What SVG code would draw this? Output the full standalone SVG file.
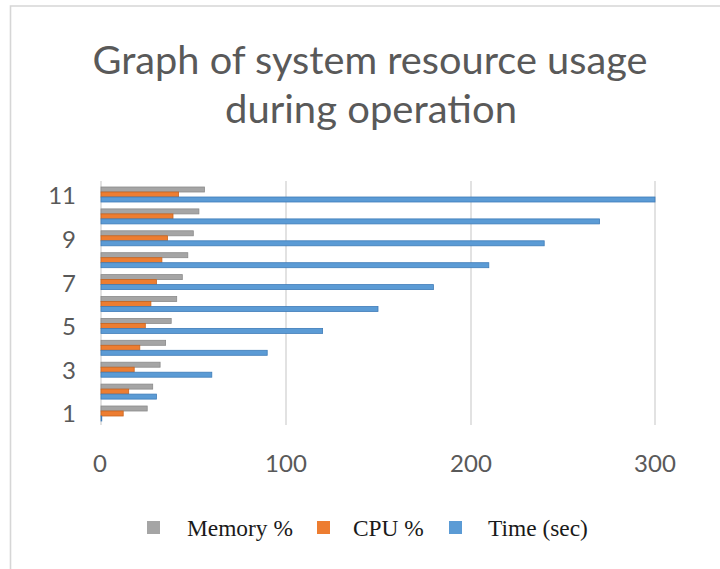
<svg xmlns="http://www.w3.org/2000/svg" width="720" height="569" viewBox="0 0 720 569">
<style>
.title{font-family:Lato,"Open Sans","Liberation Sans",sans-serif;font-size:39px;fill:#595959;text-anchor:middle}
.ax{font-family:Lato,"Open Sans","Liberation Sans",sans-serif;font-size:24px;fill:#595959}
.leg{font-family:"Liberation Serif","Times New Roman",serif;font-size:23.4px;fill:#1a1a1a}
.grid{stroke:#D9D9D9;stroke-width:1.5;fill:none}
.mem{fill:#A5A5A5;stroke:#8a8a8a;stroke-width:0.8}
.cpu{fill:#ED7D31;stroke:#c9641f;stroke-width:0.8}
.tim{fill:#5B9BD5;stroke:#3f7cb8;stroke-width:0.8}
</style>
<rect x="0" y="0" width="720" height="569" fill="#ffffff"/>
<g id="frame">
<path d="M10.5 569 V6 H720" fill="none" stroke="#D6D6D6" stroke-width="1.6"/>
</g>
<g id="title">
<text class="title" x="370" y="74" textLength="555" lengthAdjust="spacingAndGlyphs">Graph of system resource usage</text>
<text class="title" x="371" y="123" textLength="292" lengthAdjust="spacingAndGlyphs">during operation</text>
</g>
<g id="gridlines">
<line class="grid" x1="101" y1="181" x2="101" y2="425"/>
<line class="grid" x1="286" y1="181" x2="286" y2="425"/>
<line class="grid" x1="471" y1="181" x2="471" y2="425"/>
<line class="grid" x1="655" y1="181" x2="655" y2="425"/>
</g>
<g id="y-labels" class="ax" text-anchor="end">
<text x="76" y="204">11</text>
<text x="76" y="248">9</text>
<text x="76" y="292">7</text>
<text x="76" y="335">5</text>
<text x="76" y="379">3</text>
<text x="76" y="422">1</text>
</g>
<g id="x-labels" class="ax" text-anchor="middle">
<text x="100" y="472">0</text>
<text x="286" y="472">100</text>
<text x="471" y="472">200</text>
<text x="655" y="472">300</text>
</g>
<g id="bars">
<rect class="mem" x="101" y="187" width="103.4" height="5"/>
<rect class="cpu" x="101" y="192" width="77.6" height="5"/>
<rect class="tim" x="101" y="197" width="554" height="5"/>
<rect class="mem" x="101" y="208.9" width="97.9" height="5"/>
<rect class="cpu" x="101" y="213.9" width="72" height="5"/>
<rect class="tim" x="101" y="218.9" width="498.6" height="5"/>
<rect class="mem" x="101" y="230.8" width="92.3" height="5"/>
<rect class="cpu" x="101" y="235.8" width="66.5" height="5"/>
<rect class="tim" x="101" y="240.8" width="443.2" height="5"/>
<rect class="mem" x="101" y="252.7" width="86.8" height="5"/>
<rect class="cpu" x="101" y="257.7" width="60.9" height="5"/>
<rect class="tim" x="101" y="262.7" width="387.8" height="5"/>
<rect class="mem" x="101" y="274.6" width="81.3" height="5"/>
<rect class="cpu" x="101" y="279.6" width="55.4" height="5"/>
<rect class="tim" x="101" y="284.6" width="332.4" height="5"/>
<rect class="mem" x="101" y="296.5" width="75.7" height="5"/>
<rect class="cpu" x="101" y="301.5" width="49.9" height="5"/>
<rect class="tim" x="101" y="306.5" width="277" height="5"/>
<rect class="mem" x="101" y="318.4" width="70.2" height="5"/>
<rect class="cpu" x="101" y="323.4" width="44.3" height="5"/>
<rect class="tim" x="101" y="328.4" width="221.6" height="5"/>
<rect class="mem" x="101" y="340.3" width="64.6" height="5"/>
<rect class="cpu" x="101" y="345.3" width="38.8" height="5"/>
<rect class="tim" x="101" y="350.3" width="166.2" height="5"/>
<rect class="mem" x="101" y="362.2" width="59.1" height="5"/>
<rect class="cpu" x="101" y="367.2" width="33.2" height="5"/>
<rect class="tim" x="101" y="372.2" width="110.8" height="5"/>
<rect class="mem" x="101" y="384.1" width="51.7" height="5"/>
<rect class="cpu" x="101" y="389.1" width="27.7" height="5"/>
<rect class="tim" x="101" y="394.1" width="55.4" height="5"/>
<rect class="mem" x="101" y="406" width="46.2" height="5"/>
<rect class="cpu" x="101" y="411" width="22.2" height="5"/>
<rect class="tim" x="101" y="416" width="0.8" height="5"/>
</g>
<g id="legend">
<rect x="147" y="521" width="13" height="13" fill="#A5A5A5"/>
<text class="leg" x="187" y="536">Memory %</text>
<rect x="317" y="521" width="13" height="13" fill="#ED7D31"/>
<text class="leg" x="353" y="536">CPU %</text>
<rect x="449" y="521" width="13" height="13" fill="#5B9BD5"/>
<text class="leg" x="488" y="536">Time (sec)</text>
</g>
</svg>
